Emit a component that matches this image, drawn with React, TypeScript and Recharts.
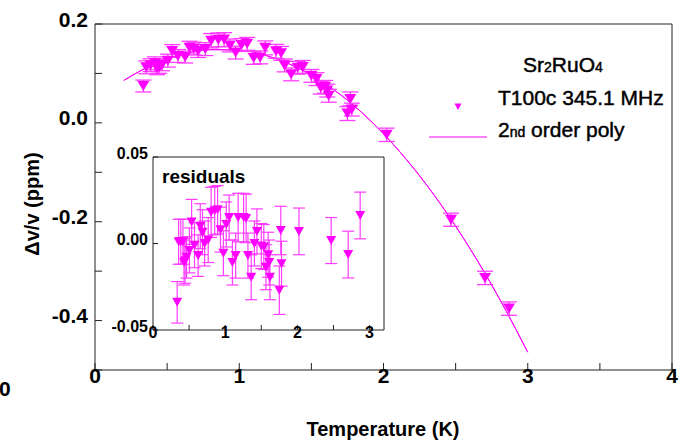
import React from 'react';
import { ComposedChart, ScatterChart, Scatter, Line, XAxis, YAxis, ErrorBar } from 'recharts';

const FONT = "'Liberation Sans', Arial, Helvetica, sans-serif";
const MAGENTA = '#ff00ff';
const BAR = '#ff3cff';
const AXIS = '#222';

// Temperature (K) of each measurement
const temperatureK = [
  0.335, 0.355, 0.385, 0.415, 0.43, 0.445, 0.465, 0.505, 0.535, 0.575,
  0.625, 0.655, 0.685, 0.715, 0.765, 0.805, 0.855, 0.895, 0.935, 0.975,
  1.015, 1.055, 1.1, 1.145, 1.18, 1.255, 1.29, 1.315, 1.36, 1.405,
  1.44, 1.5, 1.535, 1.565, 1.595, 1.61, 1.62, 1.75, 1.77, 1.78,
  2.022, 2.468, 2.704, 2.87,
];
// Δv/v (ppm)
const deltaV = [
  0.0745, 0.1124, 0.1166, 0.1205, 0.1104, 0.1132, 0.1175, 0.1258, 0.1453, 0.1353,
  0.1331, 0.1521, 0.1503, 0.1453, 0.1492, 0.1662, 0.1679, 0.1685, 0.1566, 0.1422,
  0.1575, 0.1598, 0.1314, 0.1324, 0.1517, 0.1448, 0.1406, 0.1162, 0.0981, 0.1114,
  0.1132, 0.0951, 0.0885, 0.0713, 0.0728, 0.0653, 0.0548, 0.0188, 0.0485, 0.0268,
  -0.0242, -0.196, -0.3137, -0.3758,
];
// residuals from the 2nd order polynomial fit (ppm)
const residual = [
  -0.034, 0.001, 0.001, 0.001, -0.011, -0.01, -0.008, -0.004, 0.0125, -0.001,
  -0.007, 0.01, 0.0065, 0.0, 0.002, 0.018, 0.019, 0.0195, 0.008, -0.0056,
  0.011, 0.015, -0.011, -0.007, 0.015, 0.015, 0.0145, -0.007, -0.0195, 0.0,
  0.007, -0.0015, -0.002, -0.0137, -0.0065, -0.011, -0.0195, -0.027, 0.0075, -0.0117,
  0.007, 0.0017, -0.0064, 0.0162,
];
// error bar half-lengths (ppm)
const errorPpm = [
  0.012, 0.013, 0.013, 0.013, 0.013, 0.013, 0.012, 0.013, 0.013, 0.013,
  0.012, 0.013, 0.013, 0.013, 0.013, 0.0145, 0.014, 0.014, 0.013, 0.013,
  0.013, 0.013, 0.013, 0.013, 0.014, 0.014, 0.014, 0.013, 0.013, 0.013,
  0.013, 0.013, 0.013, 0.013, 0.013, 0.013, 0.013, 0.014, 0.014, 0.013,
  0.0135, 0.0133, 0.0135, 0.0135,
];
// 2nd order poly curve
const fitT = [0.2, 0.4, 0.6, 0.8, 1.0, 1.2, 1.4, 1.6, 1.8, 2.0, 2.2, 2.4, 2.6, 2.8, 3.0];
const fitV = [0.0859, 0.1176, 0.1383, 0.1481, 0.147, 0.135, 0.1121, 0.0783, 0.0336, -0.0221, -0.0887, -0.1661, -0.2545, -0.3538, -0.464];

const mainXTicks = [0, 0.5, 1, 1.5, 2, 2.5, 3, 3.5, 4];
const mainYTicks = [-0.5, -0.4, -0.3, -0.2, -0.1, 0, 0.1, 0.2];
const mainYLabels: Record<string, string> = { '-0.4': '-0.4', '-0.2': '-0.2', '0': '0.0', '0.2': '0.2' };
const insetXTicks = [0, 0.5, 1, 1.5, 2, 2.5, 3];
const insetTopTicks = [0, 1, 2, 3];
const insetYTicks = [-0.05, 0, 0.05];
const insetYLabels: Record<string, string> = { '-0.05': '-0.05', '0': '0.00', '0.05': '0.05' };

const mainData = temperatureK.map((t, i) => ({ t, v: deltaV[i], e: errorPpm[i] }));
const residData = temperatureK.map((t, i) => ({ t, r: residual[i], e: errorPpm[i] }));
const fitData = fitT.map((t, i) => ({ t, v: fitV[i] }));

const intLabel = (v: number) => (Number.isInteger(v) ? String(v) : '');

const makeTri = (w: number, h: number) => (props: any) => {
  const { cx, cy } = props;
  if (cx == null || cy == null) return <g />;
  return (
    <polygon
      points={`${cx - w / 2},${cy - h / 2} ${cx + w / 2},${cy - h / 2} ${cx},${cy + h / 2}`}
      fill={MAGENTA}
    />
  );
};

const MainYTick = (props: any) => {
  const { x, y, payload } = props;
  const label = mainYLabels[String(payload.value)];
  if (!label) return <g />;
  return (
    <text x={x} y={y + 2.5} textAnchor="end" fontSize={21} fontWeight="bold" fontFamily={FONT} fill="#000">
      {label}
    </text>
  );
};

const InsetYTick = (props: any) => {
  const { x, y, payload } = props;
  const label = insetYLabels[String(payload.value)];
  if (!label) return <g />;
  return (
    <text x={x} y={y + 1.5} textAnchor="end" fontSize={16} fontWeight="bold" fontFamily={FONT} fill="#000">
      {label}
    </text>
  );
};

export default function App() {
  return (
    <div style={{ position: 'absolute', left: 0, top: 0, width: 686, height: 443, background: '#fff', fontFamily: FONT }}>
      <div style={{ position: 'absolute', left: 0, top: 0 }}>
        <ComposedChart width={686} height={443} margin={{ top: 0, right: 0, bottom: 0, left: 0 }}>
          <XAxis
            xAxisId="b"
            type="number"
            dataKey="t"
            orientation="bottom"
            domain={[0, 4]}
            ticks={mainXTicks}
            interval={0}
            height={73}
            tickSize={-7}
            tickMargin={5}
            tickFormatter={intLabel}
            tick={{ fontSize: 21, fontWeight: 'bold', fill: '#000', fontFamily: FONT }}
            axisLine={{ stroke: AXIS }}
            tickLine={{ stroke: AXIS }}
          />
          <XAxis
            xAxisId="t"
            type="number"
            dataKey="t"
            orientation="top"
            domain={[0, 4]}
            ticks={mainXTicks}
            interval={0}
            height={24}
            tickSize={-7}
            tick={false}
            axisLine={{ stroke: AXIS }}
            tickLine={{ stroke: AXIS }}
          />
          <YAxis
            yAxisId="l"
            type="number"
            orientation="left"
            domain={[-0.5, 0.2]}
            ticks={mainYTicks}
            interval={0}
            width={95}
            tickSize={-7}
            tickMargin={14}
            tick={MainYTick}
            axisLine={{ stroke: AXIS }}
            tickLine={{ stroke: AXIS }}
          />
          <YAxis
            yAxisId="r"
            type="number"
            orientation="right"
            domain={[-0.5, 0.2]}
            ticks={mainYTicks}
            interval={0}
            width={14}
            tickSize={-7}
            tick={false}
            axisLine={{ stroke: AXIS }}
            tickLine={{ stroke: AXIS }}
          />
          <Line
            xAxisId="b"
            yAxisId="l"
            data={fitData}
            dataKey="v"
            type="monotone"
            stroke={MAGENTA}
            strokeWidth={1}
            dot={false}
            isAnimationActive={false}
          />
          <Line
            xAxisId="t"
            yAxisId="r"
            data={fitData}
            dataKey="v"
            type="monotone"
            stroke={MAGENTA}
            strokeWidth={1}
            dot={false}
            isAnimationActive={false}
          />
          <Scatter xAxisId="b" yAxisId="l" data={mainData} dataKey="v" shape={makeTri(12, 10)} isAnimationActive={false}>
            <ErrorBar dataKey="e" direction="y" width={8} stroke={BAR} strokeWidth={1.3} />
          </Scatter>
        </ComposedChart>
      </div>

      <div style={{ position: 'absolute', left: 108, top: 141 }}>
        <ScatterChart width={282} height={214} margin={{ top: 0, right: 0, bottom: 0, left: 0 }}>
          <XAxis
            xAxisId="b"
            type="number"
            dataKey="t"
            orientation="bottom"
            domain={[0, 3.2]}
            ticks={insetXTicks}
            interval={0}
            height={25}
            tickSize={-5}
            tickMargin={2}
            tickFormatter={intLabel}
            tick={{ fontSize: 16, fontWeight: 'bold', fill: '#000', fontFamily: FONT }}
            axisLine={{ stroke: AXIS }}
            tickLine={{ stroke: AXIS }}
          />
          <XAxis
            xAxisId="t"
            type="number"
            dataKey="t"
            orientation="top"
            domain={[0, 3.2]}
            ticks={insetTopTicks}
            interval={0}
            height={16}
            tickSize={-5}
            tick={false}
            axisLine={{ stroke: AXIS }}
            tickLine={{ stroke: AXIS }}
          />
          <YAxis
            yAxisId="l"
            type="number"
            orientation="left"
            domain={[-0.05, 0.05]}
            ticks={insetYTicks}
            interval={0}
            width={45}
            tickSize={-5}
            tickMargin={10}
            tick={InsetYTick}
            axisLine={{ stroke: AXIS }}
            tickLine={{ stroke: AXIS }}
          />
          <YAxis
            yAxisId="r"
            type="number"
            orientation="right"
            domain={[-0.05, 0.05]}
            ticks={insetYTicks}
            interval={0}
            width={6}
            tickSize={-5}
            tick={false}
            axisLine={{ stroke: AXIS }}
            tickLine={{ stroke: AXIS }}
          />
          <Scatter xAxisId="b" yAxisId="l" data={residData} dataKey="r" shape={makeTri(10, 9)} isAnimationActive={false}>
            <ErrorBar dataKey="e" direction="y" width={6} stroke={BAR} strokeWidth={1.2} />
          </Scatter>
          <Scatter xAxisId="t" yAxisId="r" data={residData} dataKey="r" shape={() => <g />} isAnimationActive={false} />
        </ScatterChart>
      </div>

      <svg width={686} height={443} style={{ position: 'absolute', left: 0, top: 0, pointerEvents: 'none' }}>
        <text x={39} y={204} transform="rotate(-90 39 204)" textAnchor="middle" fontSize={20} fontWeight="bold" fontFamily={FONT} fill="#000">
          Δv/v (ppm)
        </text>
        <text x={383} y={436} textAnchor="middle" fontSize={20} fontWeight="bold" fontFamily={FONT} fill="#000">
          Temperature (K)
        </text>
        <text x={-1} y={396} fontSize={21} fontWeight="bold" fontFamily={FONT} fill="#000">0</text>
        <text x={162} y={183} fontSize={19} fontWeight="bold" fontFamily={FONT} fill="#000">residuals</text>

        <g fill="#000" stroke="#000" strokeWidth={0.45} fontFamily={FONT}>
          <text x={523} y={72} fontSize={21}>
            Sr<tspan fontSize={14}>2</tspan>RuO<tspan fontSize={14}>4</tspan>
          </text>
          <text x={498} y={105} fontSize={21}>T100c 345.1 MHz</text>
          <text x={498} y={137} fontSize={21}>
            2<tspan fontSize={14}>nd</tspan> order poly
          </text>
        </g>
        <polygon points="454.5,103.5 461.5,103.5 458,110" fill={MAGENTA} />
        <line x1={429} y1={137} x2={487} y2={137} stroke={MAGENTA} strokeWidth={1} />
      </svg>
    </div>
  );
}
